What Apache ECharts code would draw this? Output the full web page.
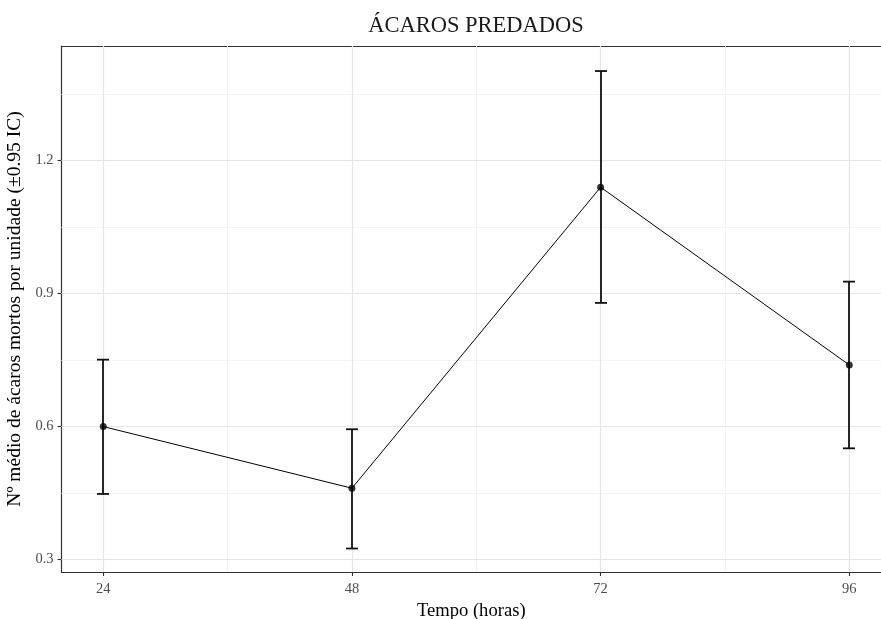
<!DOCTYPE html>
<html>
<head>
<meta charset="utf-8">
<script src="https://cdn.jsdelivr.net/npm/echarts@6/dist/echarts.min.js"></script>
<style>html,body{margin:0;padding:0;background:#fff}#c{width:881px;height:619px}</style>
</head>
<body>
<div id="c"></div>
<script>
const titleText = 'ÁCAROS PREDADOS';
const xTitle = 'Tempo (horas)';
const yTitle = 'Nº médio de ácaros mortos por unidade (±0.95 IC)';
const hours = [24, 48, 72, 96];
const means = [0.600, 0.461, 1.140, 0.739];
const lower = [0.448, 0.325, 0.879, 0.551];
const upper = [0.751, 0.594, 1.402, 0.927];
const xTicks = [24, 48, 72, 96];
const xMinor = [36, 60, 84];
const yTicks = [0.3, 0.6, 0.9, 1.2];
const yMinor = [0.45, 0.75, 1.05, 1.35];

const FONT = '"Liberation Serif", "DejaVu Serif", serif';
const chart = echarts.init(document.getElementById('c'), null, {renderer: 'canvas'});

const gridLines = [];
yMinor.forEach(v => gridLines.push({yAxis: v, lineStyle: {color: '#f3f3f3', width: 1, type: 'solid'}}));
xMinor.forEach(v => gridLines.push({xAxis: v, lineStyle: {color: '#f3f3f3', width: 1, type: 'solid'}}));
yTicks.forEach(v => gridLines.push({yAxis: v, lineStyle: {color: '#e6e6e6', width: 1.2, type: 'solid'}}));
xTicks.forEach(v => gridLines.push({xAxis: v, lineStyle: {color: '#e6e6e6', width: 1.2, type: 'solid'}}));

const pts = hours.map((h, i) => [h, means[i]]);
const bars = hours.map((h, i) => [h, lower[i], upper[i]]);

chart.setOption({
  animation: false,
  backgroundColor: '#ffffff',
  title: {
    text: titleText,
    left: 471,
    top: 10,
    textAlign: 'center',
    textStyle: {fontFamily: FONT, fontSize: 22.5, fontWeight: 'normal', color: '#1a1a1a'}
  },
  grid: {
    left: 61.5, right: 0, top: 46, bottom: 47,
    show: false, containLabel: false, outerBoundsMode: 'none'
  },
  xAxis: [{
    type: 'value', min: 19.97, max: 99.06,
    name: xTitle, nameLocation: 'middle', nameGap: 28,
    nameTextStyle: {fontFamily: FONT, fontSize: 18.6, color: '#000'},
    axisLine: {show: true, lineStyle: {color: '#333', width: 1.2}},
    axisTick: {show: true, length: 4, lineStyle: {color: '#333', width: 1.1}, customValues: xTicks},
    axisLabel: {customValues: xTicks, fontFamily: FONT, fontSize: 14.5, color: '#4d4d4d', margin: 10},
    splitLine: {show: false}
  }, {
    type: 'value', min: 19.97, max: 99.06, position: 'top',
    axisLine: {show: true, lineStyle: {color: '#333', width: 1.2}},
    axisTick: {show: false}, axisLabel: {show: false}, splitLine: {show: false}
  }],
  yAxis: {
    type: 'value', min: 0.272, max: 1.4585,
    name: yTitle, nameLocation: 'middle', nameGap: 29,
    nameTextStyle: {fontFamily: FONT, fontSize: 19.5, color: '#000'},
    axisLine: {show: true, lineStyle: {color: '#333', width: 1.2}},
    axisTick: {show: true, length: 4, lineStyle: {color: '#333', width: 1.1}, customValues: yTicks},
    axisLabel: {customValues: yTicks, fontFamily: FONT, fontSize: 14.5, color: '#4d4d4d', margin: 8,
      formatter: v => String(v)},
    splitLine: {show: false}
  },
  series: [
    {
      type: 'line', data: [], z: 1, silent: true,
      markLine: {z: 1, silent: true, symbol: 'none', label: {show: false}, animation: false, data: gridLines}
    },
    {
      type: 'line', data: pts, z: 3, symbol: 'none',
      lineStyle: {color: '#000', width: 1}
    },
    {
      type: 'custom', z: 4, data: bars,
      renderItem: function (params, api) {
        const x = api.value(0);
        const lo = api.coord([x, api.value(1)]);
        const hi = api.coord([x, api.value(2)]);
        const cx = Math.round(lo[0]);
        const cap = 6;
        const style = {stroke: '#111', lineWidth: 1.8};
        return {
          type: 'group',
          children: [
            {type: 'line', shape: {x1: cx, y1: lo[1], x2: cx, y2: hi[1]}, style: style},
            {type: 'line', shape: {x1: cx - cap, y1: lo[1], x2: cx + cap, y2: lo[1]}, style: style},
            {type: 'line', shape: {x1: cx - cap, y1: hi[1], x2: cx + cap, y2: hi[1]}, style: style}
          ]
        };
      }
    },
    {
      type: 'scatter', data: pts, z: 5, symbol: 'circle', symbolSize: 7,
      itemStyle: {color: '#000'}
    }
  ]
});
</script>
</body>
</html>
